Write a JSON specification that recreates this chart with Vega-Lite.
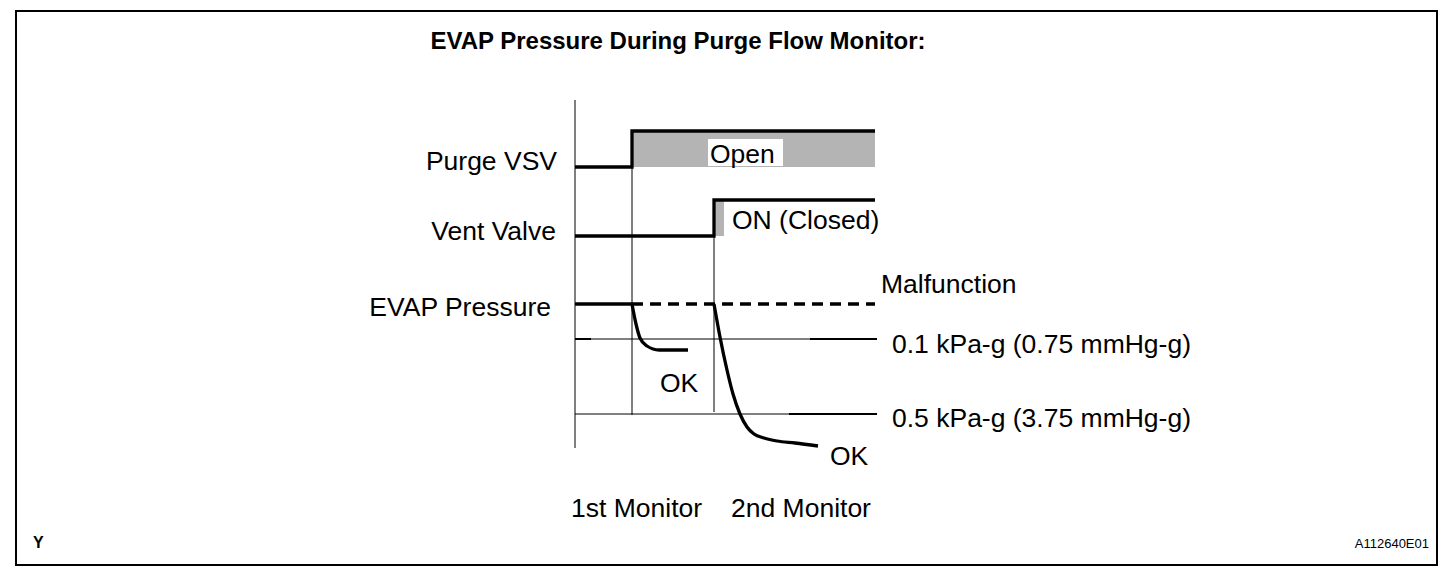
{
  "$schema": "https://vega.github.io/schema/vega-lite/v6.json",
  "width": 1421,
  "height": 554,
  "autosize": "none",
  "padding": {"left": 16, "top": 11, "right": 19, "bottom": 11},
  "background": "white",
  "config": {"view": {"stroke": "black", "strokeWidth": 2}, "font": "Liberation Sans"},
  "datasets": {
    "shades": [
      {"name": "Purge VSV open", "x": 632, "x2": 875, "y": 131, "y2": 167},
      {"name": "Vent Valve closed", "x": 714, "x2": 724, "y": 200, "y2": 236}
    ],
    "boxes": [
      {"name": "Open label box", "x": 708, "x2": 783, "y": 139, "y2": 166}
    ],
    "thinRules": [
      {"name": "time axis", "x": 575, "x2": 575, "y": 100, "y2": 448},
      {"name": "1st monitor start", "x": 632, "x2": 632, "y": 167, "y2": 415},
      {"name": "2nd monitor start", "x": 714, "x2": 714, "y": 236, "y2": 412},
      {"name": "0.1 kPa-g", "x": 575, "x2": 877, "y": 339, "y2": 339},
      {"name": "0.5 kPa-g", "x": 575, "x2": 877, "y": 414, "y2": 414}
    ],
    "medRules": [
      {"name": "0.1 tick left", "x": 575, "x2": 591, "y": 339, "y2": 339},
      {"name": "0.1 tick right", "x": 810, "x2": 877, "y": 339, "y2": 339},
      {"name": "0.5 tick right", "x": 789, "x2": 877, "y": 414, "y2": 414}
    ],
    "steps": [
      {"series": "Purge VSV", "i": 0, "x": 575, "y": 167},
      {"series": "Purge VSV", "i": 1, "x": 632, "y": 167},
      {"series": "Purge VSV", "i": 2, "x": 632, "y": 131},
      {"series": "Purge VSV", "i": 3, "x": 875, "y": 131},
      {"series": "Vent Valve", "i": 0, "x": 575, "y": 236},
      {"series": "Vent Valve", "i": 1, "x": 714, "y": 236},
      {"series": "Vent Valve", "i": 2, "x": 714, "y": 200},
      {"series": "Vent Valve", "i": 3, "x": 875, "y": 200},
      {"series": "EVAP Pressure", "i": 0, "x": 575, "y": 304},
      {"series": "EVAP Pressure", "i": 1, "x": 632, "y": 304}
    ],
    "curves": [
      {"series": "1st", "x": 632, "y": 304},
      {"series": "1st", "x": 636, "y": 324},
      {"series": "1st", "x": 640, "y": 338},
      {"series": "1st", "x": 647, "y": 346},
      {"series": "1st", "x": 659, "y": 350},
      {"series": "1st", "x": 688, "y": 350},
      {"series": "2nd", "x": 714, "y": 304},
      {"series": "2nd", "x": 720, "y": 337},
      {"series": "2nd", "x": 727, "y": 370},
      {"series": "2nd", "x": 733, "y": 394},
      {"series": "2nd", "x": 740, "y": 414},
      {"series": "2nd", "x": 747, "y": 427},
      {"series": "2nd", "x": 754, "y": 434},
      {"series": "2nd", "x": 764, "y": 438},
      {"series": "2nd", "x": 777, "y": 441},
      {"series": "2nd", "x": 795, "y": 443},
      {"series": "2nd", "x": 818, "y": 446}
    ],
    "dashed": [
      {"name": "Malfunction", "x": 632, "x2": 875, "y": 304, "y2": 304}
    ],
    "texts": [
      {"kind": "title", "text": "EVAP Pressure During Purge Flow Monitor:", "x": 678, "y": 49},
      {"kind": "label", "text": "Purge VSV", "x": 557, "y": 170},
      {"kind": "label", "text": "Vent Valve", "x": 556, "y": 240},
      {"kind": "label", "text": "EVAP Pressure", "x": 551, "y": 316},
      {"kind": "note", "text": "Open", "x": 710, "y": 163},
      {"kind": "note", "text": "ON (Closed)", "x": 732, "y": 229},
      {"kind": "note", "text": "Malfunction", "x": 881, "y": 293},
      {"kind": "note", "text": "0.1 kPa-g (0.75 mmHg-g)", "x": 892, "y": 353},
      {"kind": "note", "text": "0.5 kPa-g (3.75 mmHg-g)", "x": 892, "y": 427},
      {"kind": "note", "text": "OK", "x": 660, "y": 392},
      {"kind": "note", "text": "OK", "x": 830, "y": 465},
      {"kind": "note", "text": "1st Monitor", "x": 571, "y": 517},
      {"kind": "note", "text": "2nd Monitor", "x": 731, "y": 517},
      {"kind": "mark", "text": "Y", "x": 33, "y": 548},
      {"kind": "code", "text": "A112640E01", "x": 1429, "y": 548}
    ]
  },
  "layer": [
    {
      "data": {"name": "shades"},
      "mark": {"type": "rect", "fill": "#b4b4b4"},
      "encoding": {
        "x": {"field": "x", "type": "quantitative", "scale": {"domain": [16, 1437], "nice": false, "zero": false}, "axis": null},
        "x2": {"field": "x2"},
        "y": {"field": "y", "type": "quantitative", "scale": {"domain": [11, 565], "reverse": true, "nice": false, "zero": false}, "axis": null},
        "y2": {"field": "y2"}
      }
    },
    {
      "data": {"name": "boxes"},
      "mark": {"type": "rect", "fill": "white"},
      "encoding": {
        "x": {"field": "x", "type": "quantitative"},
        "x2": {"field": "x2"},
        "y": {"field": "y", "type": "quantitative"},
        "y2": {"field": "y2"}
      }
    },
    {
      "data": {"name": "thinRules"},
      "mark": {"type": "rule", "stroke": "black", "strokeWidth": 1},
      "encoding": {
        "x": {"field": "x", "type": "quantitative"},
        "x2": {"field": "x2"},
        "y": {"field": "y", "type": "quantitative"},
        "y2": {"field": "y2"}
      }
    },
    {
      "data": {"name": "medRules"},
      "mark": {"type": "rule", "stroke": "black", "strokeWidth": 2},
      "encoding": {
        "x": {"field": "x", "type": "quantitative"},
        "x2": {"field": "x2"},
        "y": {"field": "y", "type": "quantitative"},
        "y2": {"field": "y2"}
      }
    },
    {
      "data": {"name": "dashed"},
      "mark": {"type": "rule", "stroke": "black", "strokeWidth": 3.3, "strokeDash": [11, 7]},
      "encoding": {
        "x": {"field": "x", "type": "quantitative"},
        "x2": {"field": "x2"},
        "y": {"field": "y", "type": "quantitative"},
        "y2": {"field": "y2"}
      }
    },
    {
      "data": {"name": "steps"},
      "mark": {"type": "line", "stroke": "black", "strokeWidth": 3.3, "strokeJoin": "miter"},
      "encoding": {
        "x": {"field": "x", "type": "quantitative"},
        "y": {"field": "y", "type": "quantitative"},
        "detail": {"field": "series"},
        "order": {"field": "i", "type": "quantitative"}
      }
    },
    {
      "data": {"name": "curves"},
      "mark": {"type": "line", "stroke": "black", "strokeWidth": 3.3, "interpolate": "monotone"},
      "encoding": {
        "x": {"field": "x", "type": "quantitative"},
        "y": {"field": "y", "type": "quantitative"},
        "detail": {"field": "series"}
      }
    },
    {
      "data": {"name": "texts"},
      "transform": [{"filter": "datum.kind === 'title'"}],
      "mark": {"type": "text", "align": "center", "baseline": "alphabetic", "fontSize": 24, "fontWeight": "bold", "color": "black"},
      "encoding": {
        "x": {"field": "x", "type": "quantitative"},
        "y": {"field": "y", "type": "quantitative"},
        "text": {"field": "text"}
      }
    },
    {
      "data": {"name": "texts"},
      "transform": [{"filter": "datum.kind === 'label'"}],
      "mark": {"type": "text", "align": "right", "baseline": "alphabetic", "fontSize": 26.5, "color": "black"},
      "encoding": {
        "x": {"field": "x", "type": "quantitative"},
        "y": {"field": "y", "type": "quantitative"},
        "text": {"field": "text"}
      }
    },
    {
      "data": {"name": "texts"},
      "transform": [{"filter": "datum.kind === 'note'"}],
      "mark": {"type": "text", "align": "left", "baseline": "alphabetic", "fontSize": 26.5, "color": "black"},
      "encoding": {
        "x": {"field": "x", "type": "quantitative"},
        "y": {"field": "y", "type": "quantitative"},
        "text": {"field": "text"}
      }
    },
    {
      "data": {"name": "texts"},
      "transform": [{"filter": "datum.kind === 'mark'"}],
      "mark": {"type": "text", "align": "left", "baseline": "alphabetic", "fontSize": 16, "fontWeight": "bold", "color": "black"},
      "encoding": {
        "x": {"field": "x", "type": "quantitative"},
        "y": {"field": "y", "type": "quantitative"},
        "text": {"field": "text"}
      }
    },
    {
      "data": {"name": "texts"},
      "transform": [{"filter": "datum.kind === 'code'"}],
      "mark": {"type": "text", "align": "right", "baseline": "alphabetic", "fontSize": 13, "color": "black"},
      "encoding": {
        "x": {"field": "x", "type": "quantitative"},
        "y": {"field": "y", "type": "quantitative"},
        "text": {"field": "text"}
      }
    }
  ]
}
